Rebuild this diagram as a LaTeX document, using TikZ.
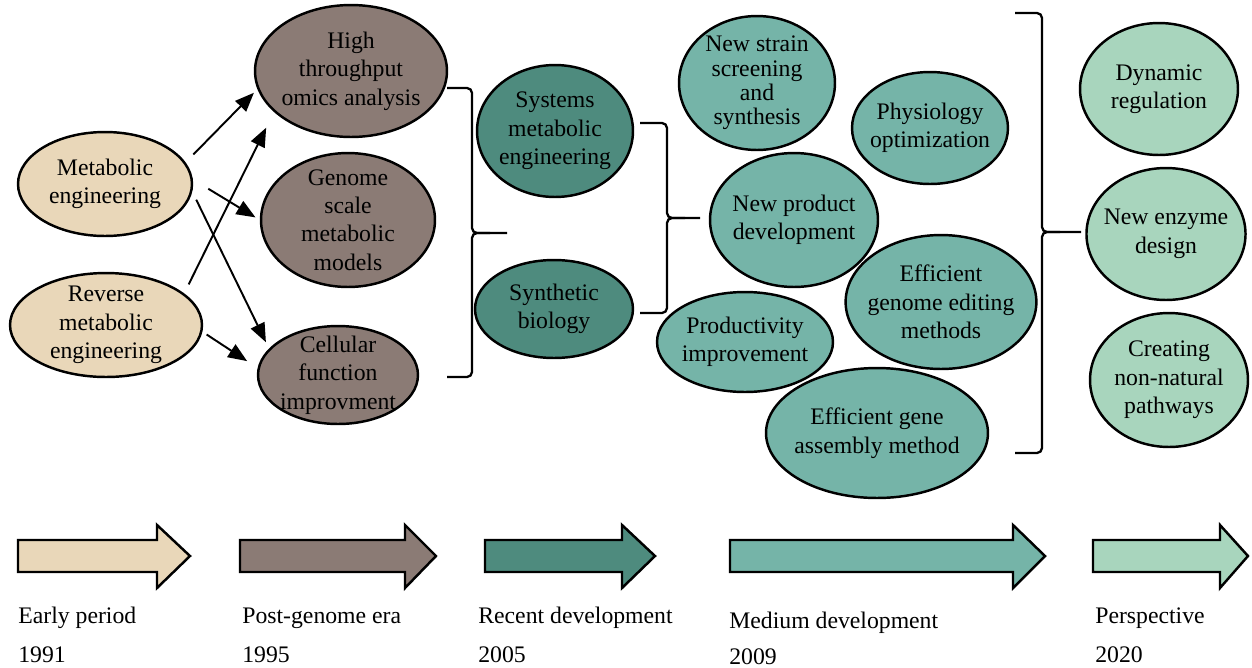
\documentclass[tikz,border=0pt]{standalone}
\usepackage{fontspec}
\setmainfont{Liberation Serif}
\usetikzlibrary{shapes.geometric,arrows.meta}
\definecolor{tanfill}{RGB}{233,215,185}
\definecolor{greybrown}{RGB}{139,123,117}
\definecolor{darkteal}{RGB}{78,139,126}
\definecolor{midteal}{RGB}{117,180,168}
\definecolor{lightgreen}{RGB}{168,213,189}

\begin{document}
\begin{tikzpicture}[x=0.02cm, y=-0.02cm,
    stage/.style={ellipse, draw, line width=1.4pt, inner sep=-0.12cm, align=center,
      font=\fontsize{13.5}{16.2}\selectfont},
    early/.style={stage, fill=tanfill},
    postgen/.style={stage, fill=greybrown},
    recent/.style={stage, fill=darkteal},
    medium/.style={stage, fill=midteal},
    persp/.style={stage, fill=lightgreen},
    arr/.style={-{Triangle[length=3.8mm, width=3mm]}, line width=1.1pt},
    brace/.style={line width=1.3pt, rounded corners=0.1cm},
    period/.style={draw, line width=1.4pt},
    lbl/.style={anchor=base west, inner sep=0pt, font=\fontsize{13.5}{16.2}\selectfont},
  ]
    \useasboundingbox (0,0) rectangle (1252,667);

    % Early period
    \node[early, minimum width=3.48cm, minimum height=2.08cm] (me) at (105,184) {Metabolic\\engineering};
    \node[early, minimum width=3.84cm, minimum height=2.08cm] (rme) at (106,325) {Reverse\\metabolic\\engineering};

    % Post-genome era
    \node[postgen, minimum width=3.84cm, minimum height=2.64cm] (hto) at (351,71) {High\\throughput\\omics analysis};
    \node[postgen, minimum width=3.48cm, minimum height=2.68cm] (gsm) at (348,220) {Genome\\scale\\metabolic\\models};
    \node[postgen, minimum width=3.2cm, minimum height=1.96cm] (cfi) at (338,375) {Cellular\\function\\improvment};

    % Recent development
    \node[recent, minimum width=3.12cm, minimum height=2.64cm] (sme) at (555,131) {Systems\\metabolic\\engineering};
    \node[recent, minimum width=3.16cm, minimum height=1.96cm] (sb) at (554,309) {Synthetic\\biology};

    % Medium development
    \node[medium, minimum width=3.12cm, minimum height=2.68cm,
      font=\fontsize{13.5}{13.9}\selectfont] (nss) at (757,83) {New strain\\screening\\and\\synthesis};
    \node[medium, minimum width=3.36cm, minimum height=2.68cm] (npd) at (794,220) {New product\\development};
    \node[medium, minimum width=3.52cm, minimum height=2.0cm] (pi) at (745,342) {Productivity\\improvement};
    \node[medium, minimum width=3.12cm, minimum height=2.24cm] (po) at (930,128) {Physiology\\optimization};
    \node[medium, minimum width=3.76cm, minimum height=2.68cm] (ege) at (941,302) {Efficient\\genome editing\\methods};
    \node[medium, minimum width=4.44cm, minimum height=2.6cm] (ega) at (877,433) {Efficient gene\\assembly method};

    % Perspective
    \node[persp, minimum width=3.16cm, minimum height=2.64cm] (dr) at (1159,89) {Dynamic\\regulation};
    \node[persp, minimum width=3.16cm, minimum height=2.64cm] (ned) at (1166,234) {New enzyme\\design};
    \node[persp, minimum width=3.16cm, minimum height=2.68cm] (cnp) at (1169,380) {Creating\\non-natural\\pathways};

    % Arrows
    \draw[arr, shorten <=0.22cm, shorten >=0.1cm] (me.15) -- (hto.191);
    \draw[arr, shorten <=0.36cm, shorten >=0.1cm] (me.3.5) -- (gsm.180);
    \draw[arr, shorten <=0.18cm, shorten >=0.14cm] (me.-5) -- (cfi.159);
    \draw[arr, shorten <=0.2cm, shorten >=0.35cm] (rme.22) -- (hto.208);
    \draw[arr, shorten <=0.1cm, shorten >=0.25cm] (rme.-4.5) -- (cfi.175.5);

    % Brackets
    \draw[brace] (447,88) -- (472,88) -- (472,233) -- (507,233);
    \draw[brace] (490,233) -- (472,233) -- (472,377) -- (447,377);
    \draw[brace] (640,123) -- (667,123) -- (667,218) -- (700,218);
    \draw[brace] (685,218) -- (667,218) -- (667,313) -- (640,313);
    \draw[brace] (1015,13) -- (1042,13) -- (1042,232) -- (1081,232);
    \draw[brace] (1060,232) -- (1042,232) -- (1042,453) -- (1015,453);

    % Time line
    \draw[period, fill=tanfill] (18,540) -- (157,540) -- (157,525) -- (190,556) -- (157,588) -- (157,572) -- (18,572) -- cycle;
    \draw[period, fill=greybrown] (240,540) -- (405,540) -- (405,525) -- (436,556) -- (405,588) -- (405,572) -- (240,572) -- cycle;
    \draw[period, fill=darkteal] (485,540) -- (622,540) -- (622,525) -- (655,556) -- (622,588) -- (622,572) -- (485,572) -- cycle;
    \draw[period, fill=midteal] (730,540) -- (1013,540) -- (1013,525) -- (1045,556) -- (1013,588) -- (1013,572) -- (730,572) -- cycle;
    \draw[period, fill=lightgreen] (1093,540) -- (1220,540) -- (1220,525) -- (1248,556) -- (1220,588) -- (1220,572) -- (1093,572) -- cycle;

    \node[lbl] (tearly) at (18,623) {Early period};
    \node[lbl] (yearly) at (18,662) {1991};
    \node[lbl] (tpost) at (242,623) {Post-genome era};
    \node[lbl] (ypost) at (242,662) {1995};
    \node[lbl] (trecent) at (478,623) {Recent development};
    \node[lbl] (yrecent) at (478,662) {2005};
    \node[lbl] (tmedium) at (729,628) {Medium development};
    \node[lbl] (ymedium) at (729,664) {2009};
    \node[lbl] (tpersp) at (1095,623) {Perspective};
    \node[lbl] (ypersp) at (1095,662) {2020};
\end{tikzpicture}
\end{document}
